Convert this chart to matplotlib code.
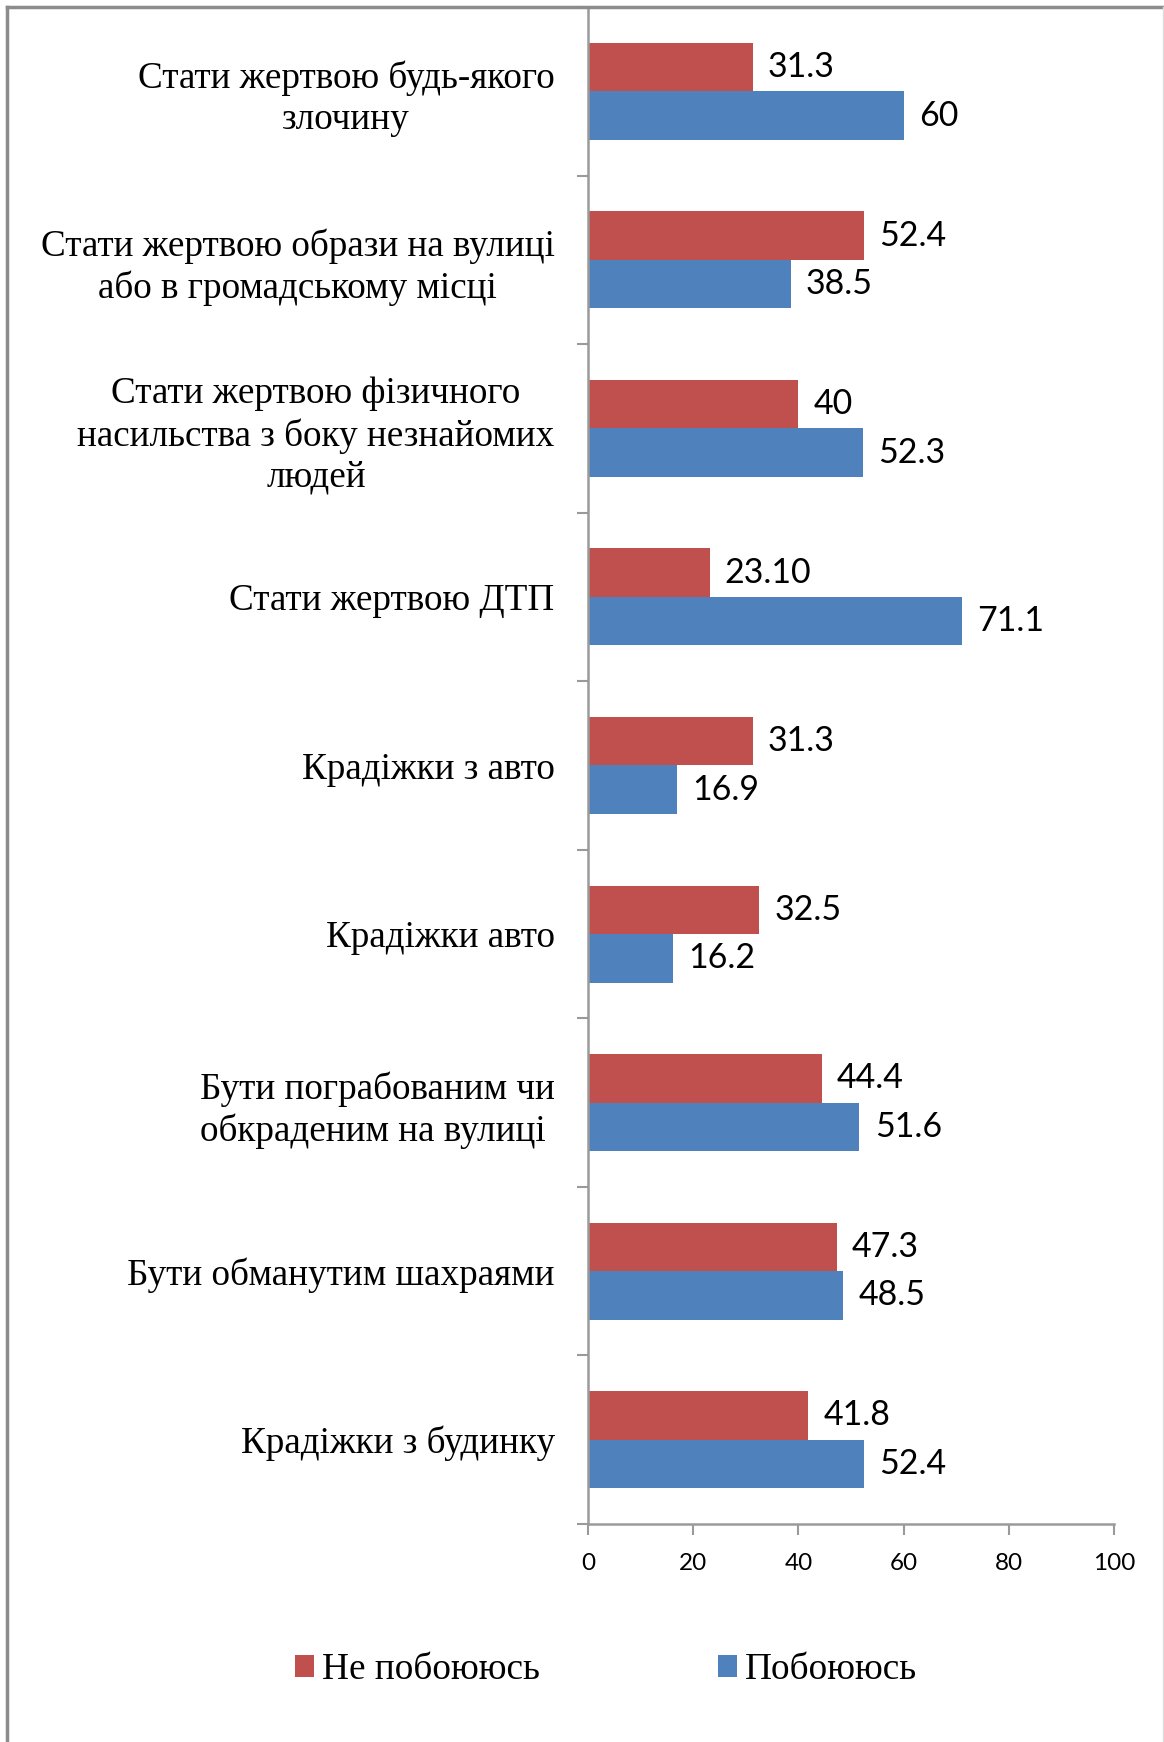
import matplotlib
matplotlib.use("Agg")
import matplotlib.pyplot as plt
from matplotlib.lines import Line2D
import numpy as np

categories = [
    "Стати жертвою будь-якого\nзлочину",
    "Стати жертвою образи на вулиці\nабо в громадському місці",
    "Стати жертвою фізичного\nнасильства з боку незнайомих\nлюдей",
    "Стати жертвою ДТП",
    "Крадіжки з авто",
    "Крадіжки авто",
    "Бути пограбованим чи\nобкраденим на вулиці ",
    "Бути обманутим шахраями",
    "Крадіжки з будинку",
]
not_afraid = [31.3, 52.4, 40, 23.10, 31.3, 32.5, 44.4, 47.3, 41.8]
not_afraid_labels = ["31.3", "52.4", "40", "23.10", "31.3", "32.5", "44.4", "47.3", "41.8"]
afraid = [60, 38.5, 52.3, 71.1, 16.9, 16.2, 51.6, 48.5, 52.4]
afraid_labels = ["60", "38.5", "52.3", "71.1", "16.9", "16.2", "51.6", "48.5", "52.4"]
series_names = ["Не побоююсь", "Побоююсь"]
xticks = [0, 20, 40, 60, 80, 100]

RED = "#C0504D"
BLUE = "#4F81BD"
AXC = "#9a9a9a"
SERIF = ["Liberation Serif", "DejaVu Serif"]
SANS = ["Lato", "DejaVu Sans"]

W, H = 1164, 1742
fig = plt.figure(figsize=(W / 100, H / 100), dpi=100)
ax = fig.add_axes([588 / W, 1 - 1524 / H, (1114 - 588) / W, (1524 - 7) / H])

y = np.arange(len(categories))
h = 0.288
b1 = ax.barh(y - h / 2, not_afraid, height=h, color=RED, label=series_names[0])
b2 = ax.barh(y + h / 2, afraid, height=h, color=BLUE, label=series_names[1])

for bars, labels in ((b1, not_afraid_labels), (b2, afraid_labels)):
    for rect, lab in zip(bars, labels):
        ax.annotate(lab, (rect.get_width(), rect.get_y() + rect.get_height() / 2),
                    xytext=(11, 0), textcoords="offset points", va="center", ha="left",
                    fontsize=24.5, family=SANS, color="black")

ax.set_xlim(0, 100)
ax.set_ylim(len(categories) - 0.5, -0.5)
ax.set_xticks(xticks)
ax.set_xticklabels([str(t) for t in xticks], family=SANS, fontsize=17.5)
ax.tick_params(axis="x", length=8, width=1.5, color=AXC, pad=13)

ax.set_yticks(y)
ax.set_yticklabels(categories, family=SERIF, fontsize=26.7)
for t in ax.get_yticklabels():
    t.set_multialignment("center")
    t.set_linespacing(1.25)
ax.tick_params(axis="y", which="major", length=0, pad=24)
ax.set_yticks(np.arange(len(categories) + 1) - 0.5, minor=True)
ax.tick_params(axis="y", which="minor", length=8, width=1.5, color=AXC)

for s in ["top", "right"]:
    ax.spines[s].set_visible(False)
for s in ["left", "bottom"]:
    ax.spines[s].set_color(AXC)
    ax.spines[s].set_linewidth(1.8)

leg = fig.legend(handles=[b1, b2], loc="center", bbox_to_anchor=(606 / W, 1 - 1670 / H),
                 ncol=2, frameon=False, prop={"family": SERIF, "size": 26.8},
                 handlelength=0.51, handleheight=0.51, handletextpad=0.21,
                 columnspacing=4.8)

# outer border
fig.add_artist(Line2D([7 / W, 7 / W], [0, 1 - 7 / H], transform=fig.transFigure,
                      color="#8c8c8c", lw=2.5))
fig.add_artist(Line2D([7 / W, 1162 / W], [1 - 7 / H, 1 - 7 / H], transform=fig.transFigure,
                      color="#8c8c8c", lw=2.5))
fig.add_artist(Line2D([1163 / W, 1163 / W], [0, 1 - 7 / H], transform=fig.transFigure,
                      color="#dddddd", lw=1))

fig.savefig("out.png", dpi=100)
